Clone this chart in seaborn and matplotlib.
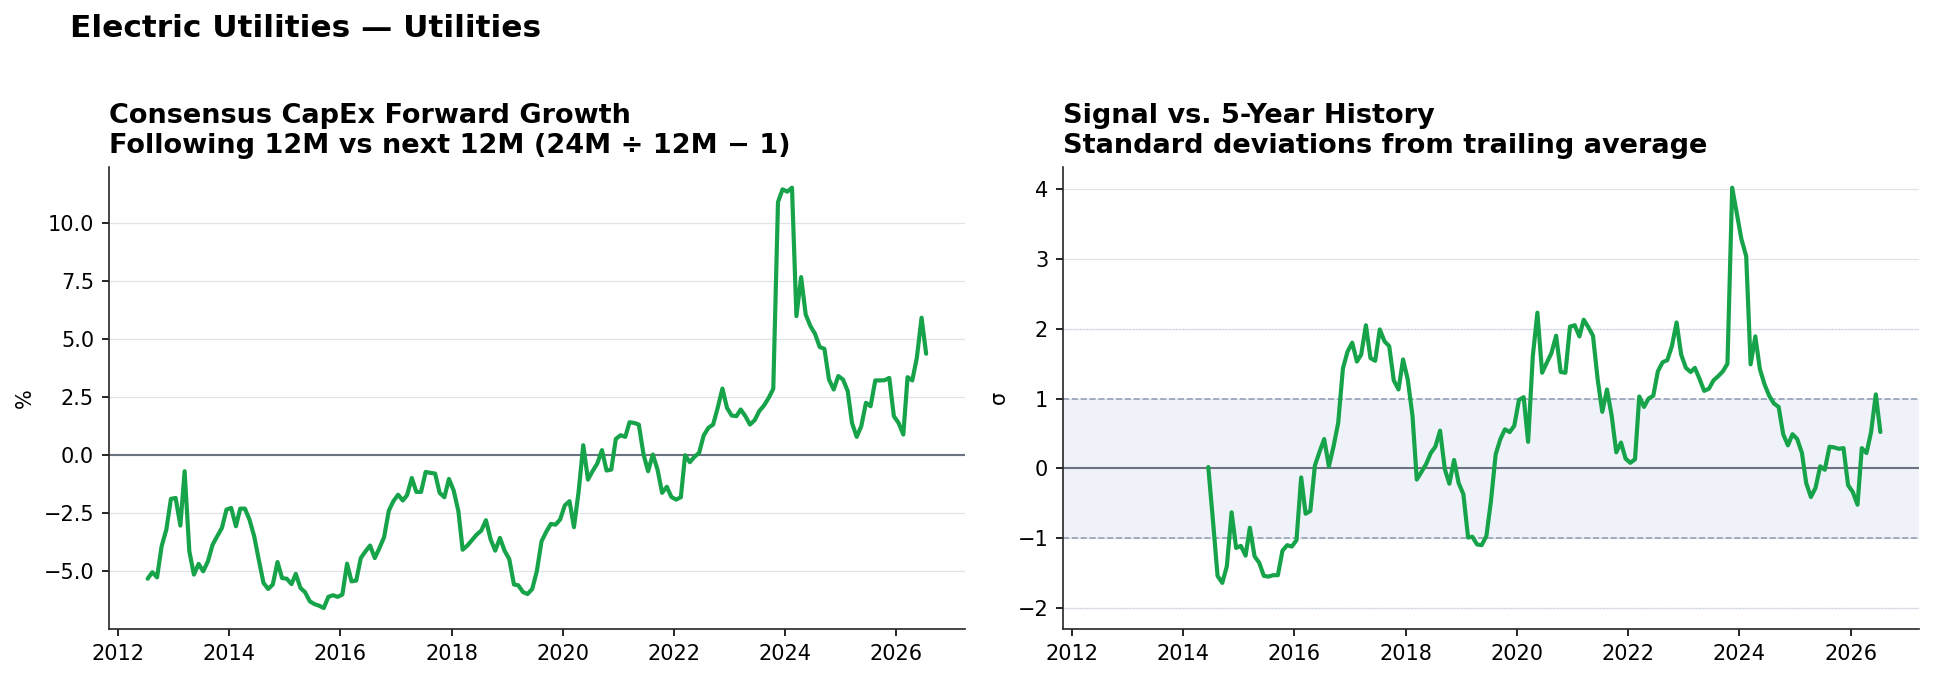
import pandas as pd
import matplotlib.pyplot as plt
import matplotlib.dates as mdates
import seaborn as sns

sns.set_style("ticks")
plt.rcParams['font.family'] = ['DejaVu Sans']
plt.rcParams['text.color'] = 'black'
plt.rcParams['axes.labelcolor'] = 'black'
plt.rcParams['xtick.color'] = 'black'
plt.rcParams['ytick.color'] = 'black'

# Consensus capex forward growth (%), monthly Jul-2012 .. Jul-2026
capex_growth = [
    -5.32, -5.04, -5.26, -3.92, -3.20, -1.88,
    -1.84, -3.03, -0.69, -4.14, -5.14, -4.68, -5.00, -4.57, -3.85, -3.49, -3.13, -2.34,
    -2.27, -3.06, -2.30, -2.30, -2.77, -3.49, -4.50, -5.50, -5.76, -5.57, -4.60, -5.29,
    -5.32, -5.55, -5.11, -5.72, -5.90, -6.29, -6.41, -6.48, -6.58, -6.10, -6.03, -6.10,
    -6.00, -4.67, -5.43, -5.40, -4.43, -4.14, -3.89, -4.43, -3.99, -3.53, -2.39, -1.98,
    -1.70, -1.95, -1.72, -0.98, -1.58, -1.58, -0.72, -0.76, -0.79, -1.62, -1.81, -1.02,
    -1.52, -2.41, -4.07, -3.89, -3.66, -3.42, -3.25, -2.80, -3.63, -4.11, -3.56, -4.11,
    -4.47, -5.57, -5.60, -5.89, -5.98, -5.76, -5.00, -3.71, -3.30, -2.96, -2.99, -2.77,
    -2.16, -1.98, -3.10, -1.55, 0.43, -1.05, -0.69, -0.36, 0.22, -0.66, -0.62, 0.70,
    0.86, 0.79, 1.42, 1.39, 1.32, 0.03, -0.69, 0.03, -0.62, -1.62, -1.36, -1.80,
    -1.91, -1.81, 0.00, -0.30, -0.07, 0.10, 0.85, 1.18, 1.32, 2.04, 2.87, 2.04,
    1.71, 1.68, 1.97, 1.68, 1.32, 1.51, 1.90, 2.14, 2.47, 2.86, 10.90, 11.45,
    11.35, 11.52, 5.99, 7.67, 6.06, 5.56, 5.23, 4.66, 4.58, 3.26, 2.83, 3.41,
    3.26, 2.76, 1.39, 0.79, 1.25, 2.26, 2.11, 3.22, 3.22, 3.23, 3.33, 1.68,
    1.39, 0.89, 3.36, 3.22, 4.20, 5.92, 4.37,
]

# z-score vs trailing 5-year history, monthly Jun-2014 .. Jul-2026
signal_z = [
    0.02, -0.73, -1.54, -1.64, -1.40, -0.63, -1.14,
    -1.11, -1.25, -0.85, -1.26, -1.35, -1.54, -1.55, -1.53, -1.53, -1.18, -1.10, -1.12,
    -1.03, -0.13, -0.65, -0.61, 0.04, 0.24, 0.42, 0.03, 0.32, 0.65, 1.43, 1.67,
    1.80, 1.53, 1.63, 2.05, 1.58, 1.54, 1.99, 1.82, 1.75, 1.26, 1.13, 1.56,
    1.27, 0.75, -0.16, -0.05, 0.06, 0.22, 0.31, 0.54, -0.01, -0.22, 0.12, -0.21,
    -0.37, -0.99, -0.98, -1.09, -1.10, -0.97, -0.47, 0.20, 0.42, 0.56, 0.52, 0.61,
    0.98, 1.02, 0.38, 1.61, 2.23, 1.37, 1.51, 1.65, 1.90, 1.38, 1.37, 2.03,
    2.05, 1.89, 2.13, 2.02, 1.90, 1.27, 0.81, 1.13, 0.75, 0.23, 0.37, 0.14,
    0.08, 0.13, 1.03, 0.88, 1.00, 1.04, 1.39, 1.52, 1.55, 1.75, 2.09, 1.63,
    1.44, 1.38, 1.44, 1.28, 1.11, 1.14, 1.26, 1.32, 1.39, 1.50, 4.02, 3.66,
    3.28, 3.04, 1.49, 1.89, 1.42, 1.20, 1.04, 0.93, 0.88, 0.49, 0.33, 0.49,
    0.42, 0.22, -0.21, -0.41, -0.28, 0.03, -0.02, 0.31, 0.30, 0.28, 0.29, -0.24,
    -0.34, -0.52, 0.29, 0.22, 0.52, 1.06, 0.52,
]

df_growth = pd.DataFrame({
    'date': pd.date_range('2012-07-01', periods=len(capex_growth), freq='MS') + pd.Timedelta(days=14),
    'value': capex_growth,
})
df_z = pd.DataFrame({
    'date': pd.date_range('2014-06-01', periods=len(signal_z), freq='MS') + pd.Timedelta(days=14),
    'value': signal_z,
})

GREEN = '#16a34a'
GRID = '#e0e3e9'

fig = plt.figure(figsize=(1934 / 150, 679 / 150), dpi=150)
ax1 = fig.add_axes([0.0562, 0.0736, 0.4428, 0.6809])
ax2 = fig.add_axes([0.5495, 0.0736, 0.4429, 0.6809], sharex=ax1)

# Left: forward growth
ax1.grid(axis='y', color=GRID, lw=0.6)
ax1.axhline(0, color='#6b7280', lw=1.0, zorder=2)
sns.lineplot(data=df_growth, x='date', y='value', color=GREEN, lw=2.0, ax=ax1, zorder=3)
ax1.set_ylabel('%', fontsize=10)
ax1.set_xlabel('')
ax1.set_title('Consensus CapEx Forward Growth\nFollowing 12M vs next 12M (24M \u00f7 12M \u2212 1)',
              loc='left', fontsize=13, fontweight='bold', pad=6.5)

# Right: signal vs history
ax2.axhspan(-1, 1, color='#eff3f9', zorder=0, lw=0)
ax2.grid(axis='y', color=GRID, lw=0.6)
ax2.axhline(0, color='#6b7280', lw=1.0, zorder=2)
for lvl in (-1, 1):
    ax2.axhline(lvl, color='#94a3b8', lw=0.8, ls='--', zorder=2)
for lvl in (-2, 2):
    ax2.axhline(lvl, color='#cbd5e1', lw=0.6, ls=':', zorder=2)
sns.lineplot(data=df_z, x='date', y='value', color=GREEN, lw=2.0, ax=ax2, zorder=3)
ax2.set_ylabel('\u03c3', fontsize=10)
ax2.set_xlabel('')
ax2.set_title('Signal vs. 5-Year History\nStandard deviations from trailing average',
              loc='left', fontsize=13, fontweight='bold', pad=6.5)

for ax in (ax1, ax2):
    ax.xaxis.set_major_locator(mdates.YearLocator(2))
    ax.xaxis.set_major_formatter(mdates.DateFormatter('%Y'))
    ax.tick_params(labelsize=10)
    ax.tick_params(axis='x', labelbottom=True)
    sns.despine(ax=ax)

fig.text(0.036, 1 - 37 / 679, 'Electric Utilities \u2014 Utilities', ha='left', va='baseline',
         fontsize=15, fontweight='bold')

fig.savefig('out.png', dpi=150)
